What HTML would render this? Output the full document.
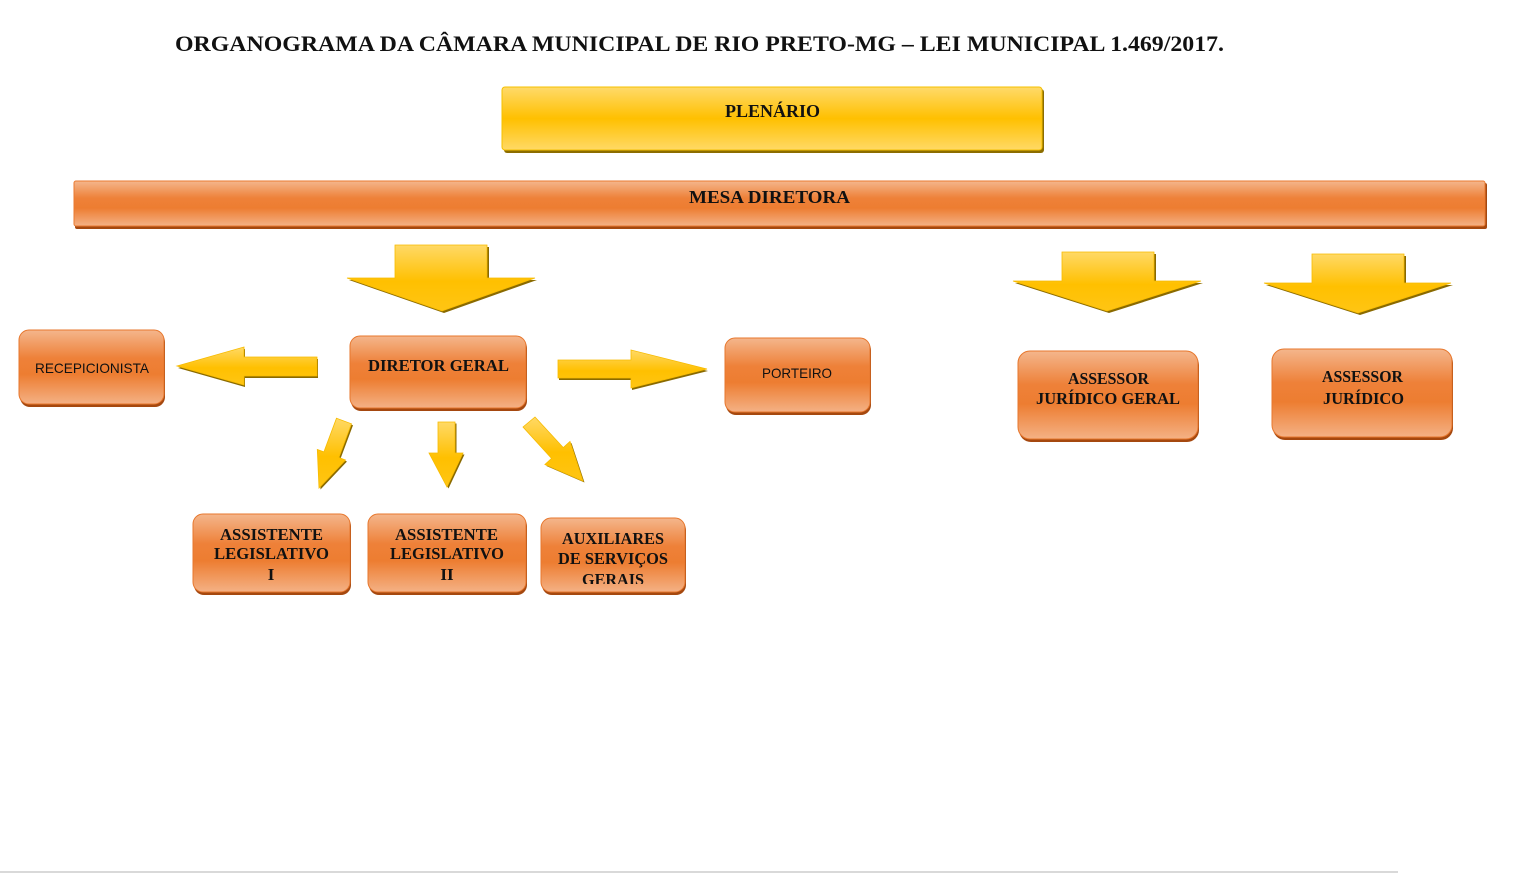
<!DOCTYPE html>
<html><head><meta charset="utf-8"><style>
html,body{margin:0;padding:0;background:#fff;}
svg{display:block;}
.t{font-family:"Liberation Serif",serif;font-weight:bold;fill:#111;}
.s{font-family:"Liberation Sans",sans-serif;fill:#111;}
</style></head><body>
<svg width="1523" height="873" viewBox="0 0 1523 873" xmlns="http://www.w3.org/2000/svg">
<defs>
<linearGradient id="og" x1="0" y1="0" x2="0" y2="1">
<stop offset="0" stop-color="#f4b68c"/><stop offset="0.38" stop-color="#ee8139"/><stop offset="0.6" stop-color="#ed7d31"/><stop offset="1" stop-color="#f4b185"/>
</linearGradient>
<linearGradient id="yg" x1="0" y1="0" x2="0" y2="1">
<stop offset="0" stop-color="#ffda6a"/><stop offset="0.5" stop-color="#ffc000"/><stop offset="1" stop-color="#ffd966"/>
</linearGradient>
<linearGradient id="ya" x1="0" y1="0" x2="0" y2="1">
<stop offset="0" stop-color="#ffd966"/><stop offset="0.55" stop-color="#ffc000"/><stop offset="1" stop-color="#ffc514"/>
</linearGradient>
<clipPath id="auxclip"><rect x="541" y="518" width="150" height="66"/></clipPath>
</defs>

<text class="t" x="175" y="51" font-size="22" textLength="1049" lengthAdjust="spacingAndGlyphs">ORGANOGRAMA DA CÂMARA MUNICIPAL DE RIO PRETO-MG – LEI MUNICIPAL 1.469/2017.</text>

<!-- Plenario -->
<rect x="504" y="89" width="540" height="64" rx="3" fill="#8c6d00"/>
<rect x="502" y="87" width="540" height="63" rx="3" fill="url(#yg)" stroke="#f5c000" stroke-width="1"/>
<text class="t" x="725" y="117" font-size="18" textLength="95" lengthAdjust="spacingAndGlyphs">PLENÁRIO</text>

<!-- Mesa -->
<rect x="75" y="183" width="1412" height="46" rx="2" fill="#a5480f"/>
<rect x="74" y="181" width="1411" height="45" rx="2" fill="url(#og)" stroke="#ea7a30" stroke-width="1"/>
<text class="t" x="689" y="203" font-size="18" textLength="161" lengthAdjust="spacingAndGlyphs">MESA DIRETORA</text>

<!-- big arrows -->
<g fill="#8a6a00">
<polygon transform="translate(2,2)" points="395,245 487,245 487,278 535,278 442,311 347,278 395,278"/>
<polygon transform="translate(2,2)" points="1062,252 1154,252 1154,281 1201,281 1107,311 1013,281 1062,281"/>
<polygon transform="translate(2,2)" points="1312,254 1404,254 1404,283 1451,283 1358,313 1264,283 1312,283"/>
<polygon transform="translate(1,2)" points="317,357 317,376 244,376 244,385 177,366 244,347 244,357"/>
<polygon transform="translate(1,2)" points="558,360 631,360 631,350 707,369 631,388 631,378 558,378"/>
<polygon transform="translate(1.5,1.5)" points="336.5,418.2 351.5,423.8 338.9,457.5 345.5,460 319,488 317.3,449.5 323.9,451.9"/>
<polygon transform="translate(1.5,1.5)" points="438,422 455,422 455,453 463,453 447,487 429,453 438,453"/>
<polygon transform="translate(1.5,1.5)" points="523,427 535,417 563.3,447.6 570,441.5 583,481 544.9,464.5 551.5,458.4"/>
</g>
<g fill="url(#ya)" stroke="#f7bb00" stroke-width="0.8">
<polygon points="395,245 487,245 487,278 535,278 442,311 347,278 395,278"/>
<polygon points="1062,252 1154,252 1154,281 1201,281 1107,311 1013,281 1062,281"/>
<polygon points="1312,254 1404,254 1404,283 1451,283 1358,313 1264,283 1312,283"/>
<polygon points="317,357 317,376 244,376 244,385 177,366 244,347 244,357"/>
<polygon points="558,360 631,360 631,350 707,369 631,388 631,378 558,378"/>
<polygon points="336.5,418.2 351.5,423.8 338.9,457.5 345.5,460 319,488 317.3,449.5 323.9,451.9"/>
<polygon points="438,422 455,422 455,453 463,453 447,487 429,453 438,453"/>
<polygon points="523,427 535,417 563.3,447.6 570,441.5 583,481 544.9,464.5 551.5,458.4"/>
</g>

<!-- boxes shadows -->
<g fill="#a5480f">
<rect x="20" y="332" width="145" height="75" rx="10"/>
<rect x="351" y="338" width="176" height="73" rx="10"/>
<rect x="726" y="340" width="145" height="75" rx="10"/>
<rect x="1019" y="353" width="180" height="89" rx="12"/>
<rect x="1273" y="351" width="180" height="89" rx="12"/>
<rect x="194" y="516" width="157" height="79" rx="10"/>
<rect x="369" y="516" width="158" height="79" rx="10"/>
<rect x="542" y="520" width="144" height="75" rx="10"/>
</g>
<g fill="url(#og)" stroke="#e7772d" stroke-width="1">
<rect x="19" y="330" width="145" height="74" rx="10"/>
<rect x="350" y="336" width="176" height="72" rx="10"/>
<rect x="725" y="338" width="145" height="74" rx="10"/>
<rect x="1018" y="351" width="180" height="88" rx="12"/>
<rect x="1272" y="349" width="180" height="88" rx="12"/>
<rect x="193" y="514" width="157" height="78" rx="10"/>
<rect x="368" y="514" width="158" height="78" rx="10"/>
<rect x="541" y="518" width="144" height="74" rx="10"/>
</g>

<text class="s" x="35" y="373" font-size="14" textLength="114" lengthAdjust="spacingAndGlyphs">RECEPICIONISTA</text>
<text class="t" x="368" y="371" font-size="17" textLength="141" lengthAdjust="spacingAndGlyphs">DIRETOR GERAL</text>
<text class="s" x="762" y="378" font-size="14" textLength="70" lengthAdjust="spacingAndGlyphs">PORTEIRO</text>

<text class="t" x="1068" y="384" font-size="17" textLength="81" lengthAdjust="spacingAndGlyphs">ASSESSOR</text>
<text class="t" x="1036" y="404" font-size="17" textLength="144" lengthAdjust="spacingAndGlyphs">JURÍDICO GERAL</text>
<text class="t" x="1322" y="382" font-size="17" textLength="81" lengthAdjust="spacingAndGlyphs">ASSESSOR</text>
<text class="t" x="1323" y="404" font-size="17" textLength="81" lengthAdjust="spacingAndGlyphs">JURÍDICO</text>

<text class="t" x="220" y="540" font-size="17" textLength="103" lengthAdjust="spacingAndGlyphs">ASSISTENTE</text>
<text class="t" x="214" y="559" font-size="17" textLength="115" lengthAdjust="spacingAndGlyphs">LEGISLATIVO</text>
<text class="t" x="271" y="580" font-size="17" text-anchor="middle">I</text>

<text class="t" x="395" y="540" font-size="17" textLength="103" lengthAdjust="spacingAndGlyphs">ASSISTENTE</text>
<text class="t" x="390" y="559" font-size="17" textLength="114" lengthAdjust="spacingAndGlyphs">LEGISLATIVO</text>
<text class="t" x="447" y="580" font-size="17" text-anchor="middle">II</text>

<g clip-path="url(#auxclip)">
<text class="t" x="562" y="544" font-size="17" textLength="102" lengthAdjust="spacingAndGlyphs">AUXILIARES</text>
<text class="t" x="558" y="564" font-size="17" textLength="110" lengthAdjust="spacingAndGlyphs">DE SERVIÇOS</text>
<text class="t" x="582" y="585" font-size="17" textLength="62" lengthAdjust="spacingAndGlyphs">GERAIS</text>
</g>

<rect x="0" y="871" width="1398" height="2" fill="#d9d9d9"/>
</svg>
</body></html>
